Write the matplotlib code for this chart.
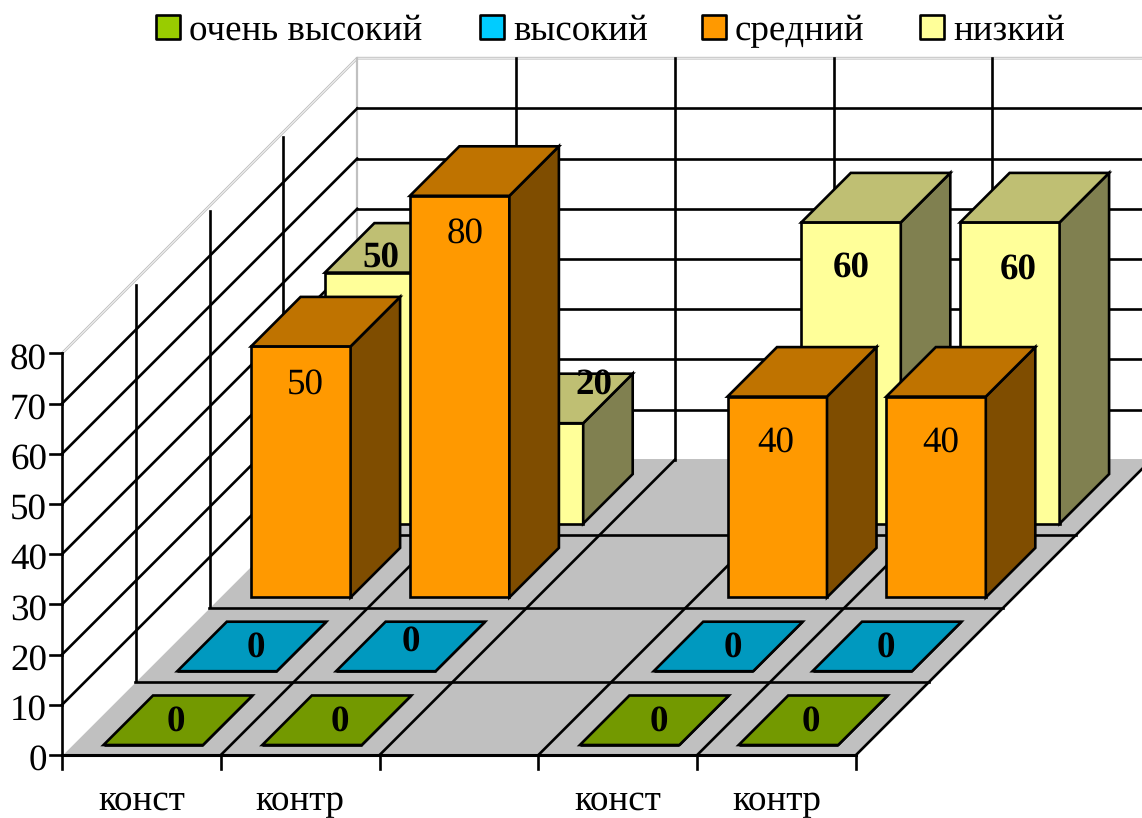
# 3D-style bar chart drawn on a flat axes with an oblique projection
import matplotlib
matplotlib.use("Agg")
import matplotlib.pyplot as plt
from matplotlib.patches import Polygon, Rectangle

plt.rcParams["font.family"] = ["Liberation Serif", "DejaVu Serif"]
plt.rcParams["text.hinting"] = "no_hinting"
plt.rcParams["text.hinting_factor"] = 1

# Data
categories = ["конст", "контр", "", "конст", "контр"]
series_names = ["очень высокий", "высокий", "средний", "низкий"]
very_high = [0, 0, None, 0, 0]
high = [0, 0, None, 0, 0]
medium = [50, 80, None, 40, 40]
low = [50, 20, None, 60, 60]
y_ticks = [0, 10, 20, 30, 40, 50, 60, 70, 80]

# Colours for each series: front, top, side
fronts = ["#99CC00", "#00CCFF", "#FF9900", "#FFFF99"]
tops = ["#739900", "#0099BF", "#BF7300", "#BFBF73"]
sides = ["#4D6600", "#006680", "#7F4D00", "#808050"]

# Label shifts in pixels from the middle of the top front edge
shifts_very_high = [(23, -27), (28, -27), None, (29, -27), (22, -27)]
shifts_high = [(29, -27), (25, -33), None, (29, -27), (24, -27)]
shifts_medium = [(4, 34), (5, 34), None, (-1, 42), (5, 42)]
shifts_low = [(6, -19), (61, -42), None, (0, 41), (8, 43)]

# Projection settings, all in pixels
X0 = 62
Y0 = 755
CAT_W = 158.8
ROW_D = 73.8
UNIT = 5.02
BAR_GAP = 31.5
BAR_W = 99.5
BAR_OFF = 10
BAR_D = 49.5
LW = 1.9
GREY = "#C0C0C0"
FONT = 26.5


def project(x, depth, value):
    # x and depth are in pixels along the floor, value is in chart units
    return (X0 + x + depth, Y0 - depth - value * UNIT)


def draw_bar(ax, cat, row, value, i):
    x1 = cat * CAT_W + BAR_GAP
    x2 = x1 + BAR_W
    d1 = row * ROW_D + BAR_OFF
    d2 = d1 + BAR_D

    front = [project(x1, d1, 0), project(x2, d1, 0), project(x2, d1, value), project(x1, d1, value)]
    top = [project(x1, d1, value), project(x2, d1, value), project(x2, d2, value), project(x1, d2, value)]
    side = [project(x2, d1, 0), project(x2, d2, 0), project(x2, d2, value), project(x2, d1, value)]

    for pts, col in [(front, fronts[i]), (side, sides[i]), (top, tops[i])]:
        ax.add_patch(Polygon(pts, closed=True, facecolor=col, edgecolor="black",
                             linewidth=LW, joinstyle="miter", zorder=5))


fig = plt.figure(figsize=(11.42, 8.18), dpi=100)
ax = fig.add_axes([0, 0, 1, 1])
ax.set_xlim(0, 1142)
ax.set_ylim(818, 0)
ax.axis("off")

n_cats = len(categories)
n_rows = len(series_names)
floor_w = n_cats * CAT_W
floor_d = n_rows * ROW_D
top_val = y_ticks[-1]

# Floor
ax.add_patch(Polygon([project(0, 0, 0), project(floor_w, 0, 0), project(floor_w, floor_d, 0), project(0, floor_d, 0)],
                     closed=True, facecolor=GREY, edgecolor="none", zorder=1))

# Wall outlines in light grey
wall_edge = [project(0, 0, top_val), project(0, floor_d, top_val), project(floor_w, floor_d, top_val)]
ax.plot([p[0] for p in wall_edge], [p[1] for p in wall_edge], color=GREY, lw=2.0, zorder=2)
ax.plot([p[0] for p in wall_edge], [p[1] for p in wall_edge], color="white", lw=0.6, zorder=2)
ax.plot(*zip(project(0, floor_d, 0), project(0, floor_d, top_val)), color=GREY, lw=1.6, zorder=2)
ax.plot(*zip(project(0, floor_d, 0), project(floor_w, floor_d, 0)), color=GREY, lw=1.4, zorder=2)
ax.plot(*zip(project(0, 0, 0), project(0, floor_d, 0)), color="white", lw=1.2, zorder=2)

# Grid lines on both walls
for v in y_ticks[1:-1]:
    ax.plot(*zip(project(0, 0, v), project(0, floor_d, v)), color="black", lw=LW, zorder=3)
    ax.plot(*zip(project(0, floor_d, v), project(floor_w, floor_d, v)), color="black", lw=LW, zorder=3)
for c in range(1, n_cats):
    ax.plot(*zip(project(c * CAT_W, floor_d, 0), project(c * CAT_W, floor_d, top_val)), color="black", lw=LW, zorder=3)
for r in range(1, n_rows):
    ax.plot(*zip(project(0, r * ROW_D, 0), project(0, r * ROW_D, top_val - 1)), color="black", lw=LW, zorder=3)

# Grid lines on the floor
for c in range(1, n_cats + 1):
    ax.plot(*zip(project(c * CAT_W, 0, 0), project(c * CAT_W, floor_d, 0)), color="black", lw=LW, zorder=4)
for r in range(1, n_rows):
    ax.plot(*zip(project(0, r * ROW_D - 1, 0), project(floor_w, r * ROW_D - 1, 0)), color="black", lw=LW, zorder=4)

# Axes and ticks
ax.plot(*zip(project(0, 0, 0), project(floor_w, 0, 0)), color="black", lw=2.2, solid_capstyle="projecting", zorder=4)
ax.plot(*zip(project(0, 0, 0), project(0, 0, top_val)), color="black", lw=LW, solid_capstyle="projecting", zorder=4)
for v in y_ticks:
    x, y = project(0, 0, v)
    ax.plot([x - 12, x], [y, y], color="black", lw=LW, zorder=4)
    ax.text(x - 15, y + 2, str(v), ha="right", va="center_baseline", fontsize=FONT, color="black")
for c in range(n_cats + 1):
    x, y = project(c * CAT_W, 0, 0)
    ax.plot([x, x], [y, y + 14], color="black", lw=LW, zorder=4)
for c, name in enumerate(categories):
    x, y = project((c + 0.5) * CAT_W, 0, 0)
    ax.text(x, 810, name, ha="center", va="baseline", fontsize=FONT, color="black")

# Bars, back row first so the front ones cover them
all_values = [very_high, high, medium, low]
for row in [3, 2, 1, 0]:
    for cat, value in enumerate(all_values[row]):
        if value is not None:
            draw_bar(ax, cat, row, value, row)

# Value labels go on top of everything; only the medium series is not bold
all_shifts = [shifts_very_high, shifts_high, shifts_medium, shifts_low]
for row in range(n_rows):
    for cat, value in enumerate(all_values[row]):
        if value is None:
            continue
        x, y = project(cat * CAT_W + BAR_GAP + BAR_W / 2, row * ROW_D + BAR_OFF, value)
        dx, dy = all_shifts[row][cat]
        weight = "normal" if row == 2 else "bold"
        ax.text(x + dx, y + dy, str(value), ha="center", va="center_baseline",
                fontsize=FONT, fontweight=weight, color="black", zorder=8)

# Legend
legend_x = [156, 480, 702, 920]
for i, name in enumerate(series_names):
    ax.add_patch(Rectangle((legend_x[i], 15), 24, 24, facecolor=fronts[i], edgecolor="black",
                           linewidth=LW, joinstyle="round", zorder=5))
    ax.text(legend_x[i] + 33, 40, name, ha="left", va="baseline", fontsize=FONT, color="black")

fig.savefig("out.png", dpi=100)
